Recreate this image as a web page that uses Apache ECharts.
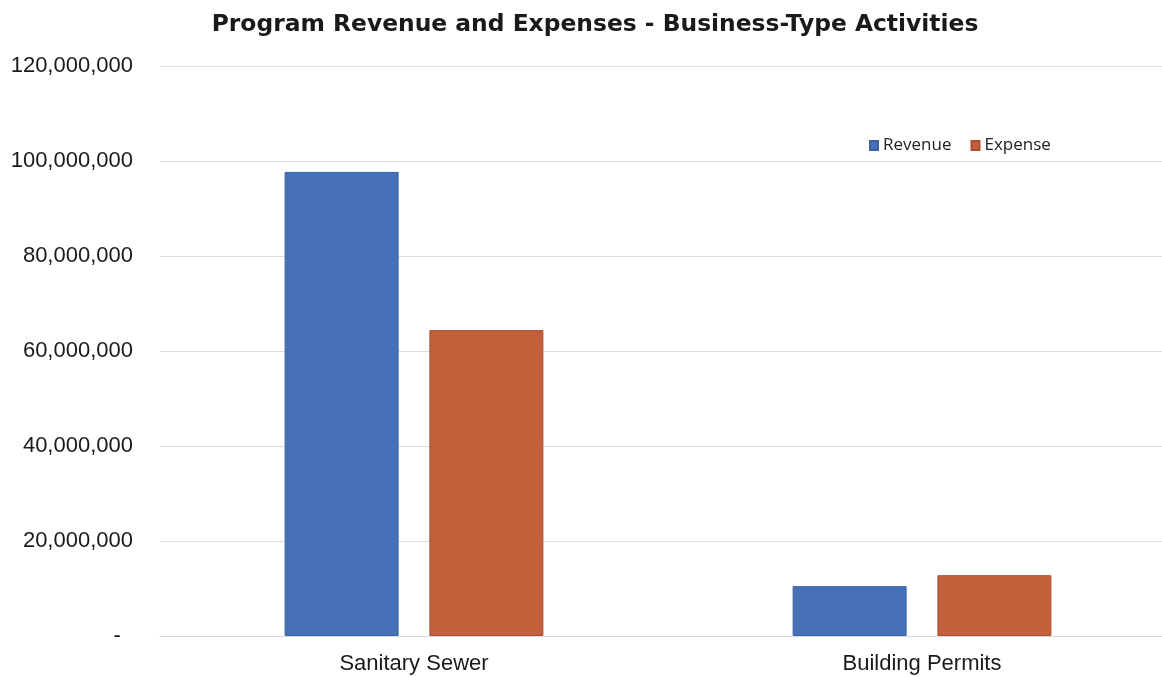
<!DOCTYPE html>
<html>
<head>
<meta charset="utf-8">
<script src="https://cdn.jsdelivr.net/npm/echarts@6/dist/echarts.min.js"></script>
<style>
  html, body { margin: 0; padding: 0; background: #fff; }
  #chart { width: 1162px; height: 677px; }
</style>
</head>
<body>
<div id="chart"></div>
<script>
// Business-type activities: program revenue vs. expense
const categories = ['Sanitary Sewer', 'Building Permits'];
const revenue = [97700000, 10500000];
const expense = [64400000, 12800000];
const yTicks = { min: 0, max: 120000000, interval: 20000000 };

function fmtAxis(v) {
  if (v === 0) return '-  ';
  return v.toLocaleString('en-US');
}

const chart = echarts.init(document.getElementById('chart'));
chart.setOption({
  backgroundColor: '#ffffff',
  animation: false,
  title: {
    text: 'Program Revenue and Expenses - Business-Type Activities',
    left: 590,
    textAlign: 'center',
    top: 8,
    textStyle: {
      fontFamily: 'DejaVu Sans, sans-serif',
      fontWeight: 'bold',
      fontSize: 23.4,
      color: '#1a1a1a'
    }
  },
  legend: {
    data: ['Revenue', 'Expense'],
    left: 864,
    top: 132,
    itemWidth: 8,
    itemHeight: 9,
    itemGap: 19,
    icon: 'rect',
    textStyle: {
      fontFamily: 'Open Sans, sans-serif',
      fontSize: 17,
      color: '#222'
    }
  },
  grid: {
    left: 160,
    width: 1016,
    top: 66,
    bottom: 41,
    containLabel: false,
    outerBoundsMode: 'none'
  },
  xAxis: {
    type: 'category',
    data: categories,
    axisLine: { show: true, lineStyle: { color: '#d9d9d9', width: 1 } },
    axisTick: { show: false },
    axisLabel: {
      margin: 17,
      fontFamily: 'Liberation Sans, Arial, sans-serif',
      fontSize: 22,
      color: '#1a1a1a'
    }
  },
  yAxis: {
    type: 'value',
    min: yTicks.min,
    max: yTicks.max,
    interval: yTicks.interval,
    axisLine: { show: false },
    axisTick: { show: false },
    splitLine: { lineStyle: { color: '#dedede', width: 1 } },
    axisLabel: {
      margin: 27,
      formatter: fmtAxis,
      fontFamily: 'Liberation Sans, Arial, sans-serif',
      fontSize: 22,
      color: '#1a1a1a'
    }
  },
  series: [
    {
      name: 'Revenue',
      type: 'bar',
      data: revenue,
      barWidth: 114,
      barGap: '27%',
      itemStyle: { color: '#4671B8', borderColor: '#3d62a0', borderWidth: 1 }
    },
    {
      name: 'Expense',
      type: 'bar',
      data: expense,
      barWidth: 114,
      itemStyle: { color: '#C45F3C', borderColor: '#a94f32', borderWidth: 1 }
    }
  ]
});
</script>
</body>
</html>
